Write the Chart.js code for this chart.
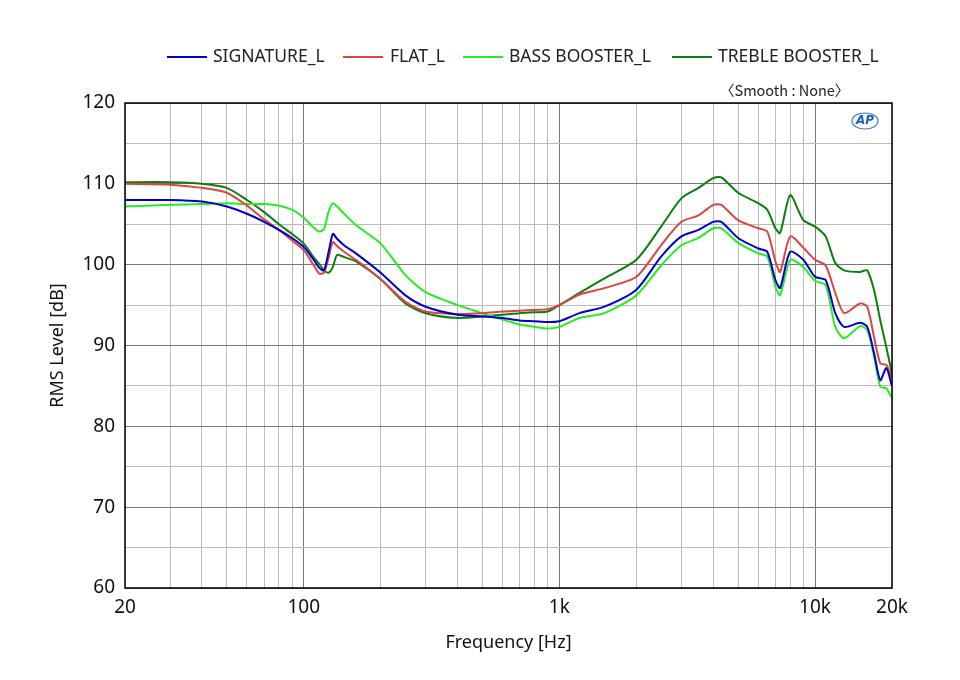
<!DOCTYPE html>
<html><head><meta charset="utf-8">
<script src="https://cdn.jsdelivr.net/npm/chart.js@4.4.0/dist/chart.umd.min.js"></script>
<style>html,body{margin:0;padding:0;background:#fff}#wrap{width:960px;height:680px}</style>
</head><body><div id="wrap"><canvas id="c"></canvas></div>
<script>
const freqs = [20,30,40,50,60,70,80,90,100,110,115,120,125,130,135,145,160,200,250,300,400,500,600,700,800,900,1000,1200,1500,2000,2500,3000,3500,4000,4300,5000,6000,6500,7000,7300,8000,9000,10000,11000,12000,13000,15000,16000,17000,18000,19000,20000];
const signature = [108,108,107.8,107.2,106.3,105.3,104.3,103.3,102.2,100.5,99.6,99.3,101.5,103.8,103.2,102.3,101.4,99,96.2,94.8,93.8,93.6,93.4,93.1,93.0,92.9,93,94,94.8,96.9,101,103.5,104.3,105.3,105.3,103.3,102,101.6,98.1,97.1,101.6,100.6,98.5,98.1,94,92.3,92.8,92.3,89.1,85.7,87.2,85];
const flat = [110,109.9,109.5,108.9,107.3,105.6,104.3,103,101.8,99.8,98.9,99,100.8,102.8,102.3,101.5,100.6,98.2,95.4,94.2,93.9,94,94.2,94.3,94.4,94.5,95,96.3,97.1,98.5,102.4,105.3,106.1,107.4,107.4,105.5,104.5,104.1,100.4,99.1,103.5,102.1,100.6,99.9,96.5,94,95.2,94.8,91.1,87.8,87.6,86];
const bassBooster = [107.2,107.4,107.5,107.6,107.5,107.5,107.3,106.8,105.8,104.5,104.1,104.4,106.5,107.6,107.2,106.2,104.9,102.6,98.7,96.6,95,94,93.2,92.6,92.3,92.1,92.3,93.4,94,96.2,99.9,102.4,103.3,104.5,104.5,102.7,101.4,101,97.3,96.2,100.6,99.7,98,97.5,92.3,90.9,92.4,91.9,88.7,84.9,84.7,83.5];
const trebleBooster = [110.2,110.2,110,109.5,108,106.5,105,103.8,102.6,100.8,100.1,99.3,99.0,99.7,101.2,100.9,100.4,98.2,95.2,94,93.4,93.6,93.8,94,94.1,94.2,95,96.5,98.3,100.6,104.7,108.2,109.5,110.7,110.8,108.9,107.6,106.8,104.5,103.9,108.6,105.5,104.7,103.5,100.2,99.3,99.1,99.3,96.9,93.1,89.8,86.5];
const seriesNames = ["SIGNATURE_L","FLAT_L","BASS BOOSTER_L","TREBLE BOOSTER_L"];
const seriesColors = ["#0000cc","#dd4444","#22ee22","#0a800a"];
const xLabels = {20:"20",100:"100",1000:"1k",10000:"10k",20000:"20k"};
const yMin = 60, yMax = 120;

const allSeries = [signature, flat, bassBooster, trebleBooster];
const datasets = allSeries.map((s,i)=>({
  label: seriesNames[i],
  data: freqs.map((f,j)=>({x:f,y:s[j]})),
  borderColor: seriesColors[i], backgroundColor: seriesColors[i],
  borderWidth: 2, pointRadius: 0, tension: 0.25, fill:false
}));
const gridTicks = [];
for (let d=10; d<=10000; d*=10) for (let m=1;m<=9;m++){const v=d*m; if(v>=20&&v<=20000) gridTicks.push(v);}

const extras = {
  id:'extras',
  afterDraw(chart){
    const ctx = chart.ctx, a = chart.chartArea;
    ctx.save();
    ctx.strokeStyle = '#000'; ctx.lineWidth = 1.5;
    ctx.strokeRect(a.left, a.top, a.right-a.left, a.bottom-a.top);
    const items = [[167,213],[343,390],[463,509],[672,718]];
    ctx.font = '17.5px "Noto Sans", sans-serif'; ctx.textBaseline='middle'; ctx.fillStyle='#222';
    items.forEach((it,i)=>{
      ctx.strokeStyle = seriesColors[i]; ctx.lineWidth=2;
      ctx.beginPath(); ctx.moveTo(it[0],57); ctx.lineTo(it[0]+40,57); ctx.stroke();
      ctx.fillText(seriesNames[i], it[1], 57);
    });
    ctx.font = '14.5px "Noto Sans CJK KR", "Noto Sans", sans-serif';
    ctx.fillText('〈Smooth : None〉', 720, 90);
    ctx.strokeStyle='#3a7bd5'; ctx.lineWidth=1.2;
    ctx.beginPath(); ctx.ellipse(865,121,13,8,0,0,Math.PI*2); ctx.stroke();
    ctx.fillStyle='#1f5fbf'; ctx.font='italic bold 12px "DejaVu Sans", sans-serif';
    ctx.textAlign='center'; ctx.fillText('AP',865,121);
    ctx.restore();
  }
};

new Chart(document.getElementById('c'), {
  type:'line',
  data:{datasets},
  plugins:[extras],
  options:{
    responsive:true, maintainAspectRatio:false, animation:false,
    layout:{padding:{top:103,right:68,bottom:22,left:43}},
    plugins:{legend:{display:false}, tooltip:{enabled:false}},
    scales:{
      x:{type:'logarithmic', min:20, max:20000,
        afterBuildTicks(s){ s.ticks = gridTicks.map(v=>({value:v})); },
        afterFit(s){ s.height = 680-588-22; },
        grid:{color:(c)=>{const v=c.tick&&c.tick.value; return (v && [100,1000,10000].includes(v))?'#777':'#bbb';}, lineWidth:1, drawTicks:false},
        border:{display:false},
        ticks:{autoSkip:false, maxRotation:0, padding:8, color:'#111', font:{size:19, family:'"Noto Sans", sans-serif'},
          callback:(v)=> xLabels[v] !== undefined ? xLabels[v] : ''},
        title:{display:true, text:'Frequency [Hz]', color:'#111', font:{size:18, family:'"Noto Sans", sans-serif'}, padding:{top:4}}
      },
      y:{min:yMin, max:yMax,
        afterFit(s){ s.width = 82; },
        grid:{color:(c)=> (c.tick && c.tick.value%10===0)?'#777':'#bbb', drawTicks:false},
        border:{display:false},
        ticks:{stepSize:5, padding:10, color:'#111', font:{size:19, family:'"Noto Sans", sans-serif'},
          callback:(v)=> v%10===0 ? String(v) : ''},
        title:{display:true, text:'RMS Level [dB]', color:'#111', font:{size:18, family:'"Noto Sans", sans-serif'}, padding:{bottom:0}}
      }
    }
  }
});
</script></body></html>
